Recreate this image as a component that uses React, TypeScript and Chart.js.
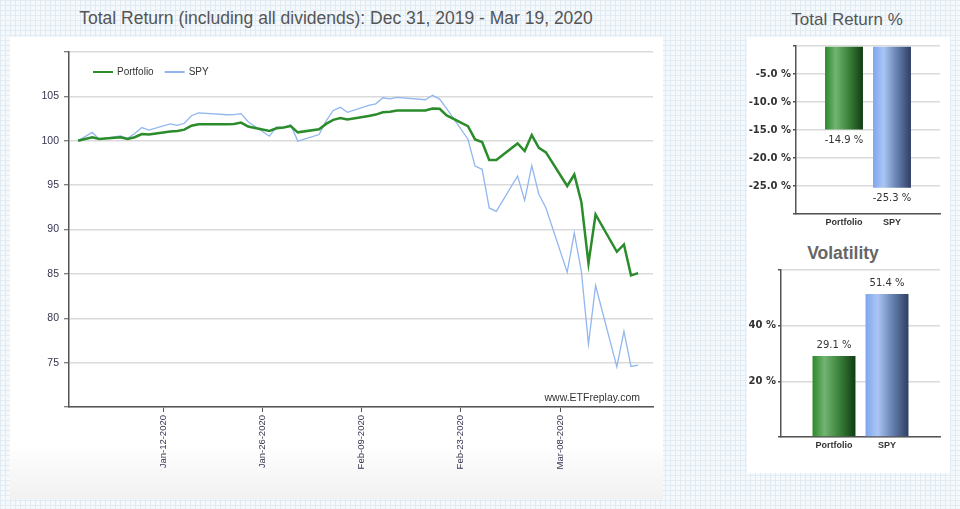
import React, { useEffect, useRef } from "react";
import { Chart, registerables } from "chart.js";
Chart.register(...registerables);

// Days since Dec 31, 2019 for each trading day through Mar 19, 2020
const tradingDays = [
  0, 2, 3, 6, 7, 8, 9, 10, 13, 14, 15, 16, 17, 21, 22, 23, 24, 27, 28, 29, 30, 31,
  34, 35, 36, 37, 38, 41, 42, 43, 44, 45, 49, 50, 51, 52, 55, 56, 57, 58, 59,
  62, 63, 64, 65, 66, 69, 70, 71, 72, 73, 76, 77, 78, 79,
];
const portfolio = [
  100, 100.4, 100.2, 100.4, 100.2, 100.4, 100.75, 100.7, 101.05, 101.1, 101.25, 101.7, 101.85, 101.85, 101.9, 102.05, 101.6, 101.1, 101.4, 101.5, 101.65, 100.95,
  101.3, 101.9, 102.35, 102.55, 102.4, 102.8, 102.95, 103.2, 103.27, 103.4, 103.4, 103.63, 103.6, 102.85, 101.65, 100.15, 99.85, 97.83, 97.83,
  99.7, 98.84, 100.64, 99.21, 98.69, 94.9, 96.2, 93.07, 86.18, 91.69, 87.49, 88.31, 84.83, 85.09,
];
const spy = [
  100, 100.94, 100.17, 100.55, 100.27, 100.81, 101.49, 101.2, 101.89, 101.74, 101.97, 102.82, 103.14, 102.93, 102.95, 103.06, 102.15, 100.51, 101.56, 101.48, 101.81, 99.96,
  100.7, 102.24, 103.42, 103.77, 103.21, 103.98, 104.16, 104.84, 104.72, 104.89, 104.62, 105.12, 104.69, 103.61, 100.17, 97.14, 96.78, 92.43, 92.05,
  96.03, 93.28, 97.2, 93.97, 92.42, 85.2, 89.61, 85.24, 77.09, 83.68, 74.52, 78.54, 74.57, 74.72,
];
const xTickDays = [12, 26, 40, 54, 68];
const xTickLabels = ["Jan-12-2020", "Jan-26-2020", "Feb-09-2020", "Feb-23-2020", "Mar-08-2020"];
const yTicks = [75, 80, 85, 90, 95, 100, 105];

const barCategories = ["Portfolio", "SPY"];
const totalReturn = [-14.9, -25.3];
const volatility = [29.1, 51.4];

const GREEN_STOPS: [number, string][] = [
  [0, "#2b8a2b"], [0.28, "#72b472"], [0.6, "#3f853f"], [1, "#0f3c10"],
];
const BLUE_STOPS: [number, string][] = [
  [0, "#7ea6ec"], [0.28, "#abc6f4"], [0.6, "#6b85b6"], [1, "#2e3e62"],
];

function barFill(stopsList: [number, string][][], pct: number) {
  return (c: any) => {
    const chart = c.chart;
    const xs = chart.scales && chart.scales.x;
    const idx = c.dataIndex;
    const stops = stopsList[idx === 2 ? 1 : 0];
    if (c.type !== "data" || !xs || !chart.chartArea) return stops[2][1];
    const step = xs.getPixelForValue(1) - xs.getPixelForValue(0);
    const cx = xs.getPixelForValue(idx);
    if (!isFinite(step) || !isFinite(cx)) return stops[2][1];
    const half = (step * pct) / 2;
    const g = chart.ctx.createLinearGradient(cx - half, 0, cx + half, 0);
    stops.forEach(([o, col]) => g.addColorStop(o, col));
    return g;
  };
}

const legendPlugin = {
  id: "insideLegend",
  afterDraw(chart: any) {
    const ctx = chart.ctx;
    const a = chart.chartArea;
    ctx.save();
    const y = a.top + 20;
    let x = a.left + 24;
    ctx.font = '10px "Liberation Sans"';
    ctx.textBaseline = "middle";
    chart.data.datasets.forEach((ds: any) => {
      ctx.strokeStyle = ds.borderColor;
      ctx.lineWidth = 2;
      ctx.beginPath();
      ctx.moveTo(x, y);
      ctx.lineTo(x + 20, y);
      ctx.stroke();
      ctx.fillStyle = "#333";
      ctx.fillText(ds.label, x + 24, y);
      x += 24 + ctx.measureText(ds.label).width + 11;
    });
    ctx.font = '10.5px "Liberation Sans"';
    ctx.textAlign = "right";
    ctx.fillStyle = "#333";
    ctx.fillText("www.ETFreplay.com", a.right - 13, a.bottom - 9);
    ctx.restore();
  },
};

const barValuePlugin = {
  id: "barValues",
  afterDatasetsDraw(chart: any) {
    const ctx = chart.ctx;
    const meta = chart.getDatasetMeta(0);
    const data = chart.data.datasets[0].data;
    ctx.save();
    ctx.font = '10px "DejaVu Sans"';
    ctx.fillStyle = "#333";
    ctx.textAlign = "center";
    ctx.textBaseline = "middle";
    meta.data.forEach((el: any, i: number) => {
      const v = data[i];
      if (v == null) return;
      const y = v < 0 ? el.y + 11 : el.y - 11;
      ctx.fillText(v.toFixed(1) + " %", el.x, y);
    });
    ctx.restore();
  },
};

const AXIS = "#555";
const GRID = "#dadada";
const TICK_COLOR = "#35354f";

function MainChart() {
  const ref = useRef<HTMLCanvasElement>(null);
  useEffect(() => {
    const chart = new Chart(ref.current as HTMLCanvasElement, {
      type: "line",
      data: {
        datasets: [
          {
            label: "Portfolio",
            data: tradingDays.map((d, i) => ({ x: d, y: portfolio[i] })),
            borderColor: "#2b8c2b",
            borderWidth: 2.5,
            pointRadius: 0,
            tension: 0,
          },
          {
            label: "SPY",
            data: tradingDays.map((d, i) => ({ x: d, y: spy[i] })),
            borderColor: "#92b6ef",
            borderWidth: 1.3,
            pointRadius: 0,
            tension: 0,
          },
        ],
      },
      options: {
        animation: false,
        responsive: false,
        layout: { padding: { top: 15, right: 9, left: 0, bottom: 0 } },
        plugins: { legend: { display: false }, tooltip: { enabled: false } },
        scales: {
          x: {
            type: "linear",
            min: -1.27,
            max: 81.1,
            afterBuildTicks: (s: any) => {
              s.ticks = xTickDays.map((v) => ({ value: v }));
            },
            afterFit: (s: any) => {
              s.height = 92;
            },
            ticks: {
              autoSkip: false,
              minRotation: 90,
              maxRotation: 90,
              padding: 3,
              color: TICK_COLOR,
              font: { family: '"Liberation Sans"', size: 9.5 },
              callback: (v: any) => {
                const i = xTickDays.indexOf(Number(v));
                return i >= 0 ? xTickLabels[i] : "";
              },
            },
            grid: { drawOnChartArea: false, drawTicks: true, tickLength: 5, color: AXIS, lineWidth: 1 },
            border: { color: AXIS, width: 1.5 },
          },
          y: {
            min: 70,
            max: 110,
            afterBuildTicks: (s: any) => {
              s.ticks = [70, ...yTicks, 110].map((v) => ({ value: v }));
            },
            afterFit: (s: any) => {
              s.width = 59;
            },
            ticks: {
              padding: 5,
              color: TICK_COLOR,
              font: { family: '"Liberation Sans"', size: 10.5 },
              callback: (v: any) => (yTicks.includes(Number(v)) ? String(v) : ""),
            },
            grid: { color: GRID, lineWidth: 1.5, tickLength: 5, tickColor: AXIS, tickWidth: 1 },
            border: { color: AXIS, width: 1.5 },
          },
        },
      },
      plugins: [legendPlugin],
    } as any);
    return () => chart.destroy();
  }, []);
  return (
    <canvas
      ref={ref}
      width={652}
      height={462}
      style={{ position: "absolute", left: 10, top: 37, width: 652, height: 462 }}
    />
  );
}

function BarChart(props: {
  values: number[];
  min: number;
  max: number;
  step: number;
  fmt: (v: number) => string;
  left: number;
  top: number;
  width: number;
  height: number;
  pad: { top: number; right: number };
  yWidth: number;
  xHeight: number;
  pct: number;
}) {
  const ref = useRef<HTMLCanvasElement>(null);
  useEffect(() => {
    const labels = ["", ...barCategories, ""];
    const chart = new Chart(ref.current as HTMLCanvasElement, {
      type: "bar",
      data: {
        labels,
        datasets: [
          {
            data: [null, ...props.values, null],
            backgroundColor: barFill([GREEN_STOPS, BLUE_STOPS], props.pct),
            borderWidth: 0,
            barPercentage: props.pct,
            categoryPercentage: 1,
          },
        ],
      },
      options: {
        animation: false,
        responsive: false,
        layout: { padding: { top: props.pad.top, right: props.pad.right, left: 0, bottom: 0 } },
        plugins: { legend: { display: false }, tooltip: { enabled: false } },
        scales: {
          x: {
            offset: false,
            afterFit: (s: any) => {
              s.height = props.xHeight;
            },
            ticks: {
              autoSkip: false,
              maxRotation: 0,
              padding: 3,
              color: "#333",
              font: { family: '"Liberation Sans"', size: 9, weight: "bold" },
            },
            grid: { drawOnChartArea: false, drawTicks: false },
            border: { color: AXIS, width: 1.5 },
          },
          y: {
            min: props.min,
            max: props.max,
            afterBuildTicks: (s: any) => {
              const t: any[] = [];
              for (let v = props.min; v <= props.max + 1e-9; v += props.step) t.push({ value: v });
              s.ticks = t;
            },
            afterFit: (s: any) => {
              s.width = props.yWidth;
            },
            ticks: {
              padding: 2,
              color: "#333",
              font: { family: '"DejaVu Sans"', size: 10, weight: "bold" },
              callback: (v: any) => {
                const n = Number(v);
                return n === props.min || n === props.max ? "" : props.fmt(n);
              },
            },
            grid: { color: GRID, lineWidth: 1.5, tickLength: 3, tickColor: AXIS },
            border: { color: AXIS, width: 1.5 },
          },
        },
      },
      plugins: [barValuePlugin],
    } as any);
    return () => chart.destroy();
  }, []);
  return (
    <canvas
      ref={ref}
      width={props.width}
      height={props.height}
      style={{ position: "absolute", left: props.left, top: props.top, width: props.width, height: props.height }}
    />
  );
}

export default function App() {
  return (
    <div
      style={{
        position: "fixed",
        left: 0,
        top: 0,
        width: 960,
        height: 509,
        overflow: "hidden",
        backgroundColor: "#f5f9fc",
        backgroundImage:
          "linear-gradient(#e0ebf3 1px, transparent 1px), linear-gradient(90deg, #e0ebf3 1px, transparent 1px)",
        backgroundSize: "5px 5px",
        fontFamily: '"Liberation Sans", Arial, sans-serif',
      }}
    >
      <div
        style={{
          position: "absolute",
          left: 10,
          top: 37,
          width: 653,
          height: 462,
          background: "linear-gradient(to bottom, #ffffff 0%, #ffffff 88%, #f1f1f1 100%)",
        }}
      />
      <div
        style={{ position: "absolute", left: 747, top: 37, width: 203, height: 436, background: "#ffffff" }}
      />
      <div
        style={{
          position: "absolute",
          left: 36,
          width: 600,
          top: 7,
          lineHeight: "22px",
          fontSize: 17.5,
          color: "#555",
          textAlign: "center",
          whiteSpace: "nowrap",
        }}
      >
        Total Return (including all dividends): Dec 31, 2019 - Mar 19, 2020
      </div>
      <div
        style={{
          position: "absolute",
          left: 747,
          width: 200,
          top: 9,
          lineHeight: "22px",
          fontSize: 17,
          color: "#555",
          textAlign: "center",
          whiteSpace: "nowrap",
        }}
      >
        Total Return %
      </div>
      <div
        style={{
          position: "absolute",
          left: 743,
          width: 200,
          top: 242,
          lineHeight: "22px",
          fontSize: 17.5,
          fontWeight: "bold",
          color: "#666",
          textAlign: "center",
          whiteSpace: "nowrap",
        }}
      >
        Volatility
      </div>
      <MainChart />
      <BarChart
        values={totalReturn}
        min={-30}
        max={0}
        step={5}
        fmt={(v) => v.toFixed(1) + " %"}
        left={748}
        top={37}
        width={200}
        height={195}
        pad={{ top: 9, right: 8 }}
        yWidth={48}
        xHeight={18}
        pct={0.79}
      />
      <BarChart
        values={volatility}
        min={0}
        max={60}
        step={20}
        fmt={(v) => v.toFixed(0) + " %"}
        left={748}
        top={262}
        width={200}
        height={200}
        pad={{ top: 6, right: 8 }}
        yWidth={33}
        xHeight={25}
        pct={0.81}
      />
    </div>
  );
}
